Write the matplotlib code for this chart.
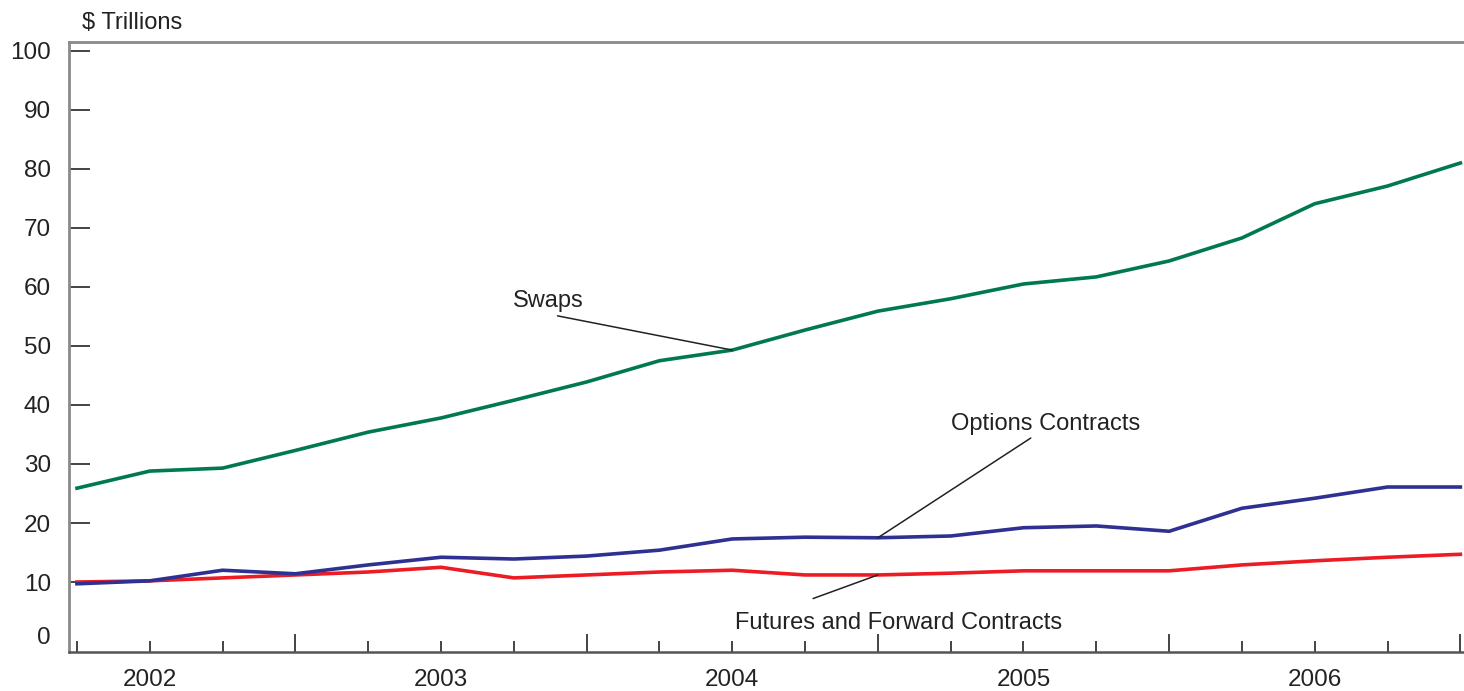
"""Notional amounts of derivatives contracts, 2002-2006."""

import matplotlib.pyplot as plt
import matplotlib.transforms as mtransforms
import numpy as np

plt.rcParams["font.family"] = ["Liberation Sans", "DejaVu Sans"]

GREEN = "#007a4d"
BLUE = "#2e3192"
RED = "#ed1c24"

# quarterly observations, 2002 to 2006
quarters = np.arange(20)
swaps = [25.9, 28.8, 29.3, 32.3, 35.4, 37.8, 40.8, 43.9, 47.5, 49.3,
         52.7, 55.9, 58.0, 60.5, 61.7, 64.4, 68.3, 74.1, 77.1, 81.0]
options = [9.7, 10.2, 12.0, 11.4, 12.9, 14.2, 13.9, 14.4, 15.4, 17.3,
           17.6, 17.5, 17.8, 19.2, 19.5, 18.6, 22.5, 24.2, 26.1, 26.1]
futures = [10.0, 10.2, 10.7, 11.2, 11.7, 12.5, 10.7, 11.2, 11.7, 12.0,
           11.2, 11.2, 11.5, 11.9, 11.9, 11.9, 12.9, 13.6, 14.2, 14.7]
year_labels = ["2002", "2003", "2004", "2005", "2006"]
year_label_pos = [1, 5, 9, 13, 17]
year_end_pos = [3, 7, 11, 15, 19]
y_ticks = list(range(0, 101, 10))

fig = plt.figure(figsize=(14.64, 6.91), dpi=100)
ax = fig.add_axes([0.0471, 0.0564, 0.9529, 0.8828])

ax.plot(quarters, swaps, color=GREEN, lw=2.6, solid_joinstyle="round")
ax.plot(quarters, futures, color=RED, lw=2.6, solid_joinstyle="round")
ax.plot(quarters, options, color=BLUE, lw=2.6, solid_joinstyle="round")

ax.set_xlim(-0.11, 19.05)
ax.set_ylim(-1.86, 101.5)

# spines
ax.spines["right"].set_visible(False)
for side in ("left", "top"):
    ax.spines[side].set_color("#8a8a8a")
    ax.spines[side].set_linewidth(2.0)
ax.spines["bottom"].set_color("#555555")
ax.spines["bottom"].set_linewidth(1.8)

# y axis
ax.set_yticks(y_ticks)
ax.tick_params(axis="y", direction="in", length=15, width=1.1, color="#111111",
               labelsize=17.5, labelcolor="#222222", pad=13)
zero_tick = ax.yaxis.get_major_ticks()[0]
zero_tick.tick1line.set_visible(False)
zero_tick.label1.set_transform(
    zero_tick.label1.get_transform()
    + mtransforms.ScaledTranslation(0, 6 / 100, fig.dpi_scale_trans))

# x axis: a tick every quarter, longer at year ends, labels in between
ax.xaxis.remove_overlapping_locs = False
ax.set_xticks(quarters)
ax.set_xticklabels([])
ax.tick_params(axis="x", which="major", direction="in", length=8, width=1.1,
               color="#111111")
for q, tick in zip(quarters, ax.xaxis.get_major_ticks()):
    if q in year_end_pos:
        tick.tick1line.set_markersize(13)
ax.set_xticks(year_label_pos, minor=True)
ax.set_xticklabels(year_labels, minor=True)
ax.tick_params(axis="x", which="minor", length=0, labelsize=17.5,
               labelcolor="#222222", pad=12)

# series labels
label_kw = dict(fontsize=17, color="#222222")
line_kw = dict(arrowstyle="-", color="#222222", lw=1.1, shrinkA=0, shrinkB=0)
ax.annotate("Swaps", xy=(9, swaps[9]), xytext=(6.47, 57.7),
            ha="center", va="center", **label_kw)
ax.annotate("", xy=(9, swaps[9]), xytext=(6.6, 55.1), arrowprops=line_kw)
ax.annotate("Options Contracts", xy=(11, options[11]), xytext=(13.31, 36.8),
            ha="center", va="center", **label_kw)
ax.annotate("", xy=(11, options[11]), xytext=(13.1, 34.4), arrowprops=line_kw)
ax.annotate("Futures and Forward Contracts", xy=(11, futures[11]),
            xytext=(11.29, 3.1), ha="center", va="center", **label_kw)
ax.annotate("", xy=(11, futures[11]), xytext=(10.11, 7.2), arrowprops=line_kw)

fig.text(82 / 1464, 1 - 23 / 691, "$ Trillions", ha="left", va="center",
         **label_kw)

fig.savefig("out.png", dpi=100)
plt.close(fig)
